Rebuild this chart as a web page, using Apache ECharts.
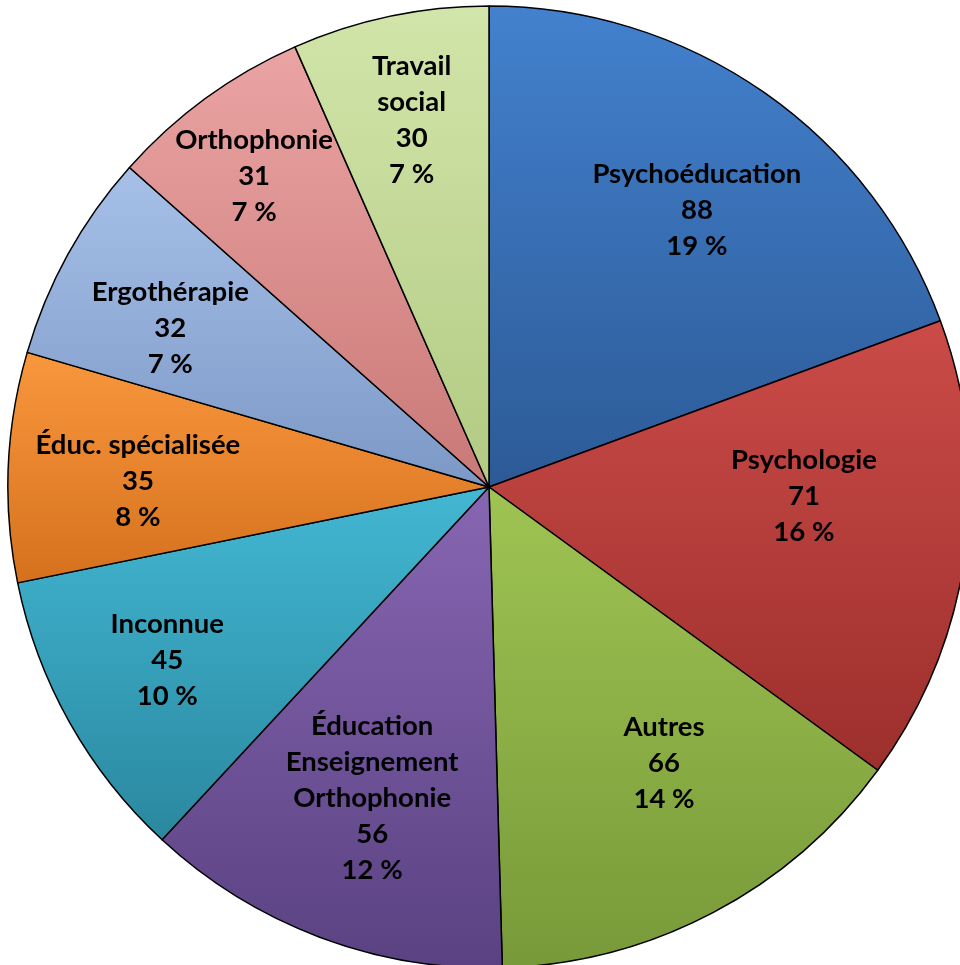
<!DOCTYPE html>
<html>
<head>
<meta charset="utf-8">
<script src="https://cdn.jsdelivr.net/npm/echarts@6/dist/echarts.min.js"></script>
<style>html,body{margin:0;padding:0;background:#fff;}#c{width:960px;height:965px;}</style>
</head>
<body>
<div id="c"></div>
<script>
const categories = ["Psychoéducation", "Psychologie", "Autres", "Éducation\nEnseignement\nOrthophonie", "Inconnue", "Éduc. spécialisée", "Ergothérapie", "Orthophonie", "Travail\nsocial"];
const values = [88, 71, 66, 56, 45, 35, 32, 31, 30];
const percentLabels = ["19 %", "16 %", "14 %", "12 %", "10 %", "8 %", "7 %", "7 %", "7 %"];

// styling (not data)
const colorsTop = ["#4381CE", "#CB4B48", "#9FC453", "#8766B2", "#43B7D3", "#F9973D", "#A6C0E8", "#EAA4A3", "#D2E5AA"];
const colorsBottom = ["#2C5A96", "#9C2F2C", "#789938", "#5A4282", "#2A889F", "#D5711D", "#7C98C6", "#C97977", "#B2CA83"];
const labelRadiusRatio = [0.72, 0.655, 0.68, 0.69, 0.76, 0.73, 0.74, 0.81, 0.78];
const labelAngleShift = [2, -6.2, -4.6, 0, 1, -1.5, -2.5, -1, 0];

const CX = 489, CY = 487, R = 481;

const data = categories.map((name, i) => ({
  name: name,
  value: values[i],
  pct: percentLabels[i],
  itemStyle: {
    color: new echarts.graphic.LinearGradient(0, 0, 0, 1, [
      {offset: 0, color: colorsTop[i]},
      {offset: 1, color: colorsBottom[i]}
    ])
  }
}));

const chart = echarts.init(document.getElementById('c'), null, {renderer: 'canvas'});
chart.setOption({
  animation: false,
  backgroundColor: '#ffffff',
  series: [{
    type: 'pie',
    center: [CX, CY],
    radius: [0, R],
    startAngle: 90,
    clockwise: true,
    avoidLabelOverlap: false,
    data: data,
    itemStyle: {borderColor: '#000', borderWidth: 1.5},
    label: {
      position: 'inside',
      formatter: p => p.name + '\n' + p.value + '\n' + p.data.pct,
      fontFamily: 'Lato',
      fontWeight: 'bold',
      fontSize: 27.5,
      lineHeight: 36,
      color: '#000',
      align: 'center'
    },
    labelLine: {show: false},
    emphasis: {disabled: true},
    labelLayout: function (params) {
      const r = params.labelRect;
      const lx = r.x + r.width / 2, ly = r.y + r.height / 2;
      const i = params.dataIndex;
      const a = Math.atan2(ly - CY, lx - CX) + labelAngleShift[i] * Math.PI / 180;
      const d = labelRadiusRatio[i] * R;
      return {x: CX + Math.cos(a) * d, y: CY + Math.sin(a) * d};
    }
  }]
});
</script>
</body>
</html>
